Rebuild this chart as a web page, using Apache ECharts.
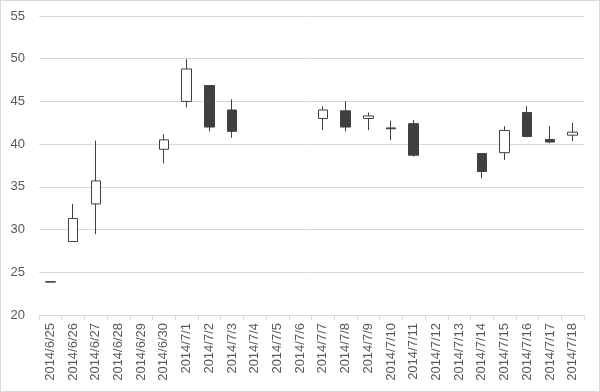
<!DOCTYPE html>
<html><head><meta charset="utf-8">
<script src="https://cdn.jsdelivr.net/npm/echarts@6/dist/echarts.min.js"></script>
<style>
html,body{margin:0;padding:0;background:#fff;}
#c{width:598px;height:390px;border:1px solid #d9d9d9;}
</style></head><body>
<div id="c"></div>
<script>
var categories = ['2014/6/25','2014/6/26','2014/6/27','2014/6/28','2014/6/29','2014/6/30','2014/7/1','2014/7/2','2014/7/3','2014/7/4','2014/7/5','2014/7/6','2014/7/7','2014/7/8','2014/7/9','2014/7/10','2014/7/11','2014/7/12','2014/7/13','2014/7/14','2014/7/15','2014/7/16','2014/7/17','2014/7/18'];
var openVals  = [23.9, 28.6, 33.0, null, null, 39.4, 45.0, 46.85, 44.0, null, null, null, 43.0, 43.9, 43.0, 41.9, 42.4, null, null, 38.9, 39.0, 43.7, 40.55, 41.05];
var closeVals = [23.85, 31.3, 35.7, null, null, 40.5, 48.8, 42.0, 41.5, null, null, null, 44.0, 42.0, 43.3, 41.8, 38.7, null, null, 36.8, 41.6, 40.9, 40.25, 41.4];
var lowVals   = [23.85, 28.6, 29.45, null, null, 37.75, 44.3, 41.5, 40.75, null, null, null, 41.65, 41.5, 41.65, 40.5, 38.55, null, null, 36.0, 38.15, 40.8, 40.1, 40.35];
var highVals  = [23.9, 33.0, 40.4, null, null, 41.15, 49.95, 46.9, 45.25, null, null, null, 44.45, 45.05, 43.7, 42.75, 42.85, null, null, 38.95, 42.1, 44.45, 42.1, 42.5];

var ohlc = categories.map(function(c, i){
  if (openVals[i] === null) return ['-','-','-','-'];
  return [openVals[i], closeVals[i], lowVals[i], highVals[i]];
});

var chart = echarts.init(document.getElementById('c'));
chart.setOption({
  animation: false,
  grid: {left: 38, right: 15, top: 15, bottom: 76},
  xAxis: {
    type: 'category',
    data: categories,
    boundaryGap: true,
    axisLine: {lineStyle: {color: '#d9d9d9', width: 1}},
    axisTick: {show: true, alignWithLabel: false, length: 5, lineStyle: {color: '#d9d9d9'}},
    axisLabel: {rotate: 90, interval: 0, margin: 8, color: '#595959', fontSize: 13, fontFamily: 'Liberation Sans'}
  },
  yAxis: {
    type: 'value',
    min: 20, max: 55, interval: 5,
    axisLine: {show: false},
    axisTick: {show: false},
    splitLine: {lineStyle: {color: '#d9d9d9', width: 1}},
    axisLabel: {color: '#595959', fontSize: 13, fontFamily: 'Liberation Sans', margin: 14, align: 'right'}
  },
  series: [{
    type: 'candlestick',
    data: ohlc,
    barWidth: 10,
    itemStyle: {
      color: '#ffffff',
      color0: '#404040',
      borderColor: '#404040',
      borderColor0: '#404040',
      borderWidth: 1
    }
  }]
});
</script>
</body></html>
